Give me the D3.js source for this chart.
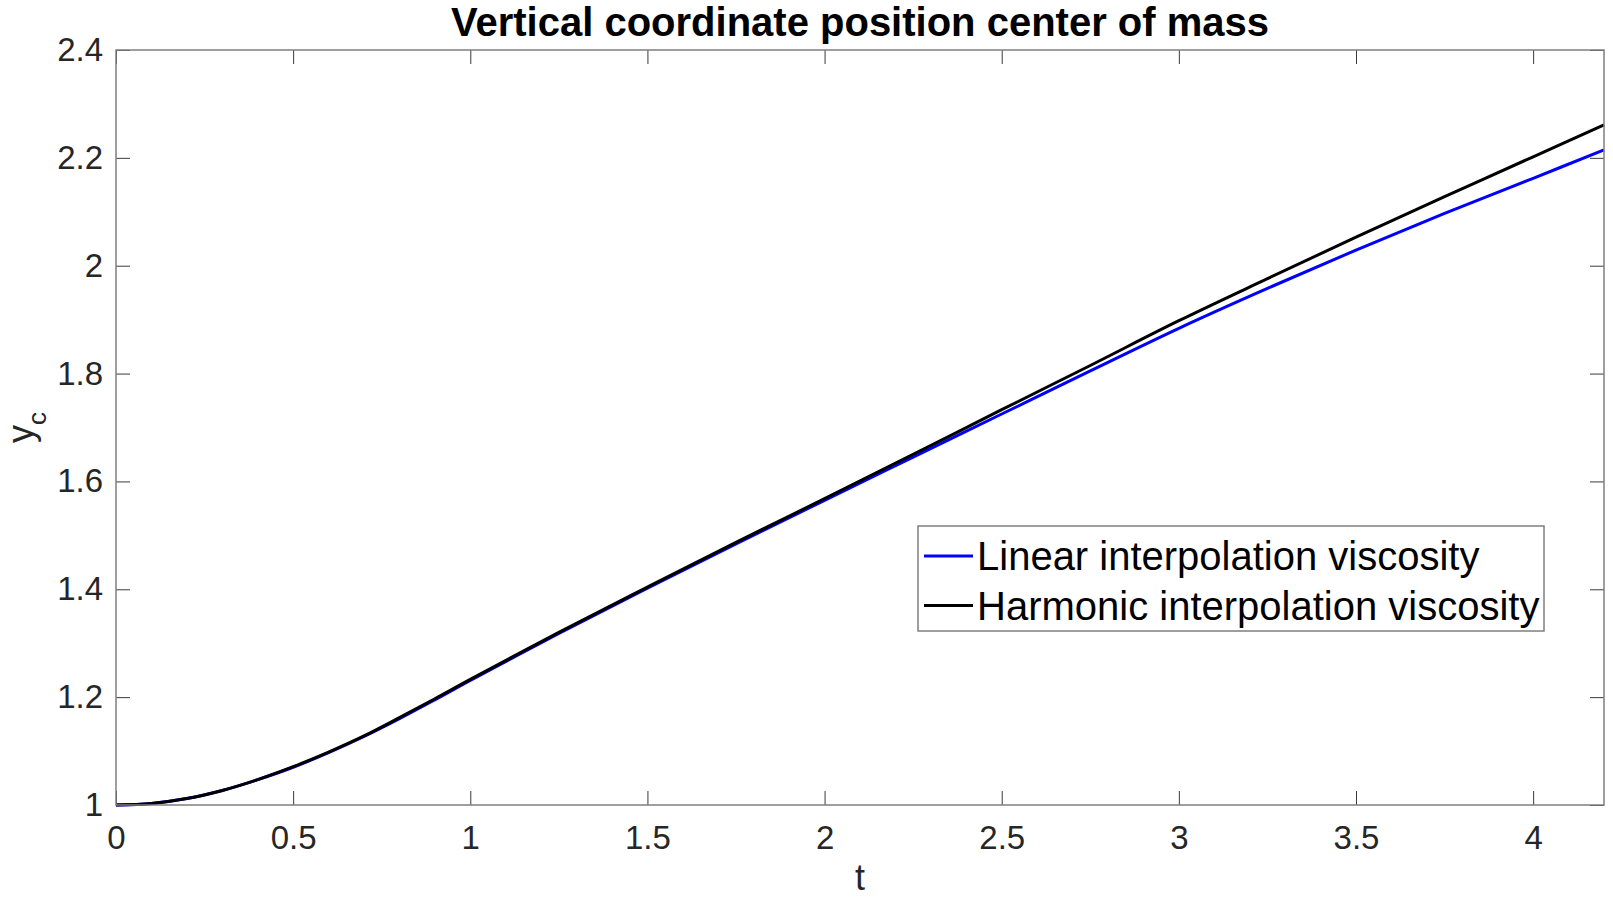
<!DOCTYPE html>
<html>
<head>
<meta charset="utf-8">
<script src="https://cdn.jsdelivr.net/npm/d3@7"></script>
<style>
	body { margin: 0; background: #fff; }
	svg { display: block; font-family: "Liberation Sans", Arial, Helvetica, sans-serif; }
</style>
</head>
<body>
<svg id="chart" width="1613" height="899"></svg>
<script>
// time samples (t)
var times = [0, 0.1, 0.2, 0.3, 0.4, 0.5, 0.6, 0.7, 0.8, 0.9, 1.0, 1.25, 1.5, 1.75, 2.0, 2.25, 2.5, 2.75, 3.0, 3.25, 3.5, 3.75, 4.0, 4.2];

// y_c, linear interpolation of viscosity (blue)
var linearYc = [1.000, 1.003, 1.012, 1.027, 1.047, 1.070, 1.097, 1.127, 1.160, 1.195, 1.231, 1.318, 1.402, 1.484, 1.565, 1.645, 1.725, 1.805, 1.884, 1.958, 2.029, 2.097, 2.162, 2.215];

// y_c, harmonic interpolation of viscosity (black)
var harmonicYc = [1.000, 1.003, 1.012, 1.027, 1.047, 1.071, 1.098, 1.128, 1.162, 1.197, 1.233, 1.320, 1.404, 1.487, 1.568, 1.650, 1.733, 1.815, 1.898, 1.976, 2.053, 2.128, 2.202, 2.261];

var seriesNames = ['Linear interpolation viscosity', 'Harmonic interpolation viscosity'];
var seriesColors = ['#0000ff', '#000000'];

var xTicks = [0, 0.5, 1, 1.5, 2, 2.5, 3, 3.5, 4];
var yTicks = [1, 1.2, 1.4, 1.6, 1.8, 2, 2.2, 2.4];

var options = {
	width: 1613,
	height: 899,
	margin: {left: 116, right: 9, top: 50, bottom: 94},
	tickLength: 14,
	axisColor: '#7f7f7f',
	tickColor: '#3a3a3a',
	textColor: '#262626'
};

var w = options.width - options.margin.left - options.margin.right;
var h = options.height - options.margin.top - options.margin.bottom;

var svg = d3.select('#chart');
var g = svg.append('g')
	.attr('transform', 'translate(' + options.margin.left + ',' + options.margin.top + ')');

var x = d3.scaleLinear().domain([0, 4.2]).range([0, w]);
var y = d3.scaleLinear().domain([1, 2.4]).range([h, 0]);
var fmt = d3.format('~g');

// ===========================================================================================
// axes, ticks pointing inwards on all four sides
var xAxis = g.append('g')
	.attr('transform', 'translate(0,' + h + ')')
	.call(d3.axisBottom(x).tickValues(xTicks).tickFormat(fmt)
		.tickSizeInner(-options.tickLength).tickSizeOuter(0).tickPadding(21));

var xAxisTop = g.append('g')
	.call(d3.axisTop(x).tickValues(xTicks).tickFormat('')
		.tickSizeInner(-options.tickLength).tickSizeOuter(0));

var yAxis = g.append('g')
	.call(d3.axisLeft(y).tickValues(yTicks).tickFormat(fmt)
		.tickSizeInner(-options.tickLength).tickSizeOuter(0).tickPadding(13));

var yAxisRight = g.append('g')
	.attr('transform', 'translate(' + w + ',0)')
	.call(d3.axisRight(y).tickValues(yTicks).tickFormat('')
		.tickSizeInner(-options.tickLength).tickSizeOuter(0));

[xAxis, xAxisTop, yAxis, yAxisRight].forEach(function(a) {
	a.select('.domain').remove();
	a.selectAll('.tick line').attr('stroke', options.tickColor).attr('stroke-width', 1);
	a.selectAll('.tick text')
		.attr('fill', options.textColor)
		.style('font-size', '33px');
});

// ===========================================================================================
// lines
var line = d3.line()
	.x(function(d) { return x(d[0]); })
	.y(function(d) { return y(d[1]); })
	.curve(d3.curveCatmullRom.alpha(0.5));

var series = [linearYc, harmonicYc].map(function(vals, i) {
	return {
		name: seriesNames[i],
		color: seriesColors[i],
		points: times.map(function(t, j) { return [t, vals[j]]; })
	};
});

g.selectAll('.series')
	.data(series)
	.enter()
	.append('path')
	.attr('class', 'series')
	.attr('fill', 'none')
	.attr('stroke', function(d) { return d.color; })
	.attr('stroke-width', 3)
	.attr('stroke-linejoin', 'round')
	.attr('d', function(d) { return line(d.points); });

// box
g.append('rect')
	.attr('width', w)
	.attr('height', h)
	.attr('fill', 'none')
	.attr('stroke', options.axisColor)
	.attr('stroke-width', 1.5);

// ===========================================================================================
// labels and title
svg.append('text')
	.attr('x', options.margin.left + w / 2)
	.attr('y', 36)
	.attr('text-anchor', 'middle')
	.style('font-size', '40px')
	.style('font-weight', 'bold')
	.attr('fill', '#000')
	.text('Vertical coordinate position center of mass');

svg.append('text')
	.attr('x', options.margin.left + w / 2)
	.attr('y', 890)
	.attr('text-anchor', 'middle')
	.style('font-size', '36px')
	.attr('fill', options.textColor)
	.text('t');

var yLabel = svg.append('text')
	.attr('transform', 'translate(33,' + (options.margin.top + h / 2) + ') rotate(-90)')
	.attr('text-anchor', 'middle')
	.style('font-size', '36px')
	.attr('fill', options.textColor);
yLabel.append('tspan').text('y');
yLabel.append('tspan').attr('dy', 13).style('font-size', '26px').text('c');

// ===========================================================================================
// legend
var legend = g.append('g')
	.attr('class', 'legend')
	.attr('transform', 'translate(' + (918 - options.margin.left) + ',' + (526 - options.margin.top) + ')');

legend.append('rect')
	.attr('width', 626)
	.attr('height', 105)
	.attr('fill', '#fff')
	.attr('stroke', options.axisColor)
	.attr('stroke-width', 1.5);

var item = legend.selectAll('.legend-item')
	.data(series)
	.enter()
	.append('g')
	.attr('class', 'legend-item')
	.attr('transform', function(d, i) { return 'translate(0,' + (30 + i * 49.5) + ')'; });

item.append('line')
	.attr('x1', 6)
	.attr('x2', 55)
	.attr('stroke', function(d) { return d.color; })
	.attr('stroke-width', 3);

item.append('text')
	.attr('x', 59)
	.attr('dy', '0.36em')
	.style('font-size', '40px')
	.attr('fill', '#000')
	.text(function(d) { return d.name; });
</script>
</body>
</html>
